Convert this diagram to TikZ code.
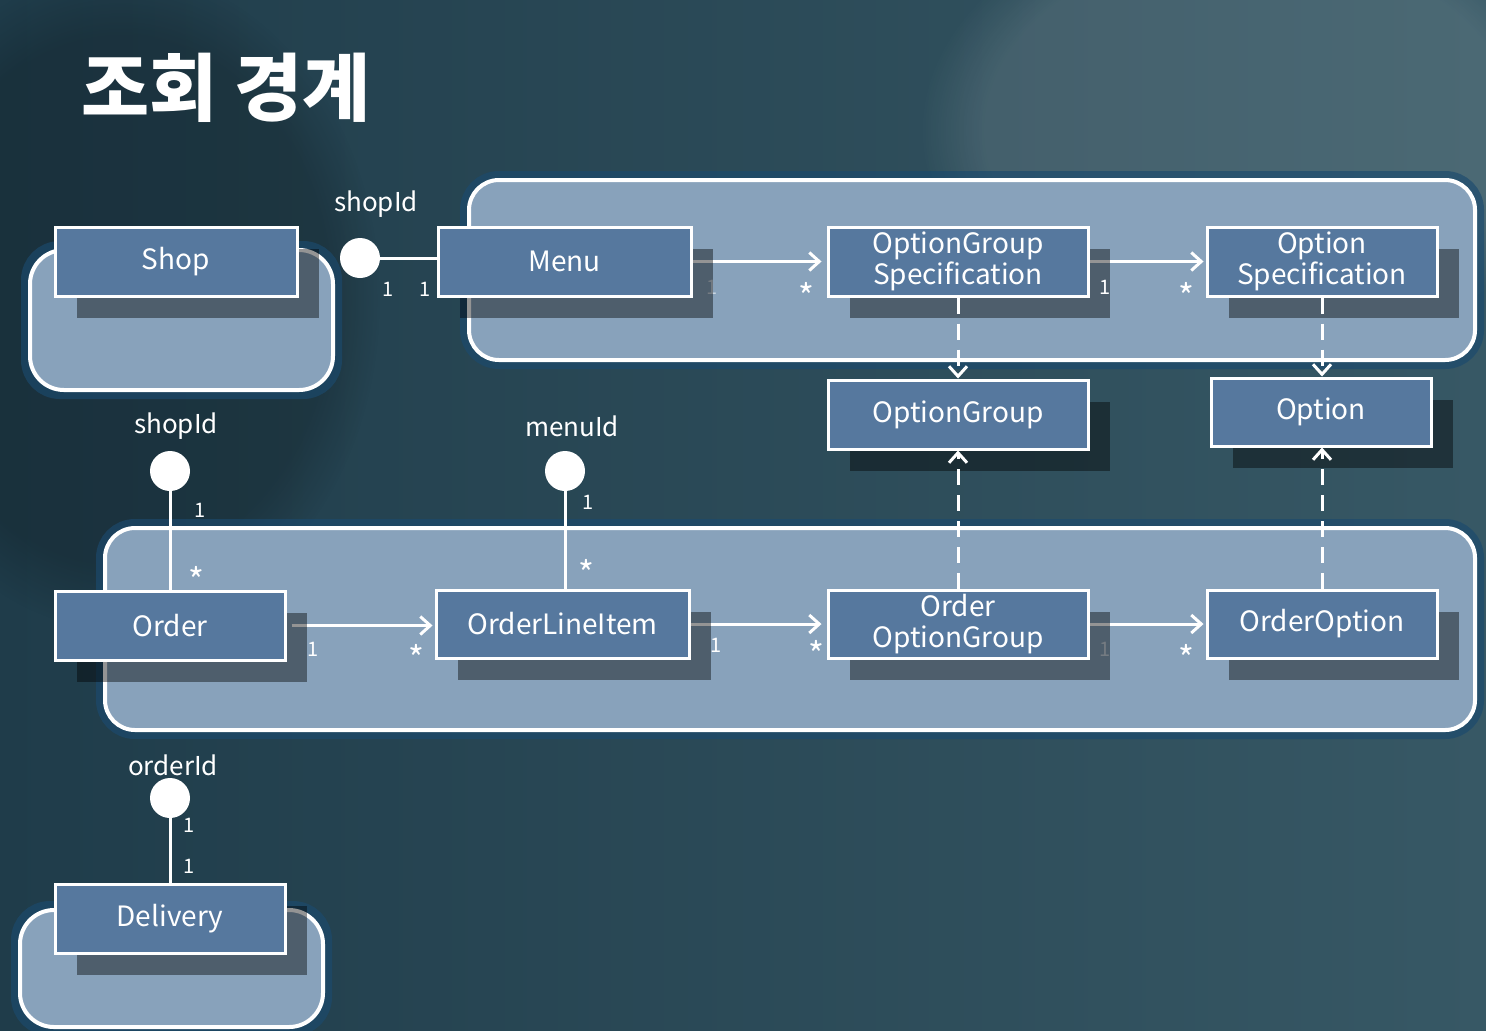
\documentclass[tikz,border=0pt]{standalone}
\usepackage{fontspec}
\setmainfont{Noto Sans CJK KR}
\usetikzlibrary{arrows.meta,shadows,fadings}
\pgfdeclarelayer{bg}
\pgfdeclarelayer{conn}
\pgfdeclarelayer{top}
\pgfsetlayers{bg,conn,main,top}
\definecolor{bgleft}{HTML}{1F3C4A}
\definecolor{bgright}{HTML}{375865}
\definecolor{contfill}{HTML}{88A2BB}
\definecolor{boxfill}{HTML}{56789E}
\definecolor{glowc}{HTML}{1B4A6E}
\begin{document}
\begin{tikzpicture}[x=0.5pt,y=-0.5pt,
  entity/.style={draw=white, line width=1.5pt, fill=boxfill, text=white,
    font=\fontsize{14}{15.5}\selectfont, align=center, inner sep=0pt,
    minimum height=34.5pt,
    drop shadow={shadow xshift=11pt, shadow yshift=-11pt, opacity=0.42, fill=black}},
  container/.style={draw=white, line width=2pt, fill=contfill, rounded corners=15pt},
  glow/.style={draw=glowc, line width=9pt, opacity=.65, rounded corners=15pt},
  port/.style={circle, fill=white, minimum size=20pt, inner sep=0pt},
  idlab/.style={text=white, font=\fontsize{13}{14}\selectfont, inner sep=0pt},
  mult/.style={text=white, font=\fontsize{10}{11}\selectfont, inner sep=0pt},
  star/.style={text=white, font=\fontsize{17}{17}\selectfont, inner sep=0pt},
  faintmult/.style={mult, text=white!55!contfill},
  link/.style={draw=white, line width=1.5pt},
  assoc/.style={link, -{Straight Barb[length=5pt,width=9pt]}},
  dep/.style={assoc, dash pattern=on 8pt off 5pt}]
\useasboundingbox (0,0) rectangle (1486,1030);

% ---------- background and bounded contexts ----------
\begin{pgfonlayer}{bg}
  \shade[left color=bgleft, right color=bgright] (0,0) rectangle (1486,1030);
  \fill[white, opacity=0.10, path fading=circle with fuzzy edge 20 percent]
     (1250,130) ellipse [x radius=330, y radius=230];
  \fill[black, opacity=0.18, path fading=circle with fuzzy edge 20 percent]
     (120,300) ellipse [x radius=260, y radius=330];
  % glows
  \draw[glow] (469,180) rectangle (1475,360);
  \draw[glow] (30,250) rectangle (333,390);
  \draw[glow] (105,528) rectangle (1475,730);
  \draw[glow] (20,910) rectangle (323,1027);
  % containers
  \draw[container] (469,180) rectangle (1475,360);
  \draw[container, rounded corners=17pt] (30,250) rectangle (333,390);
  \draw[container] (105,528) rectangle (1475,730);
  \draw[container, rounded corners=17pt] (20,910) rectangle (323,1027);
\end{pgfonlayer}

% ---------- title ----------
\node[text=white, font=\fontsize{37}{40}\selectfont\bfseries] (title) at (226,88) {조회 경계};

% ---------- entities ----------
\node[entity, minimum width=121pt] (shop) at (176,261.5) {Shop};
\node[entity, minimum width=126.5pt] (menu) at (564.5,261.5) {Menu};
\node[entity, minimum width=130pt] (ogs) at (958,261.5) {OptionGroup\\Specification};
\node[entity, minimum width=115pt] (os) at (1322,261.5) {Option\\Specification};
\node[entity, minimum width=130pt] (og) at (958,414.5) {OptionGroup};
\node[entity, minimum width=110pt, minimum height=34pt] (opt) at (1321,412) {Option};
\node[entity, minimum width=115pt] (order) at (170,625.5) {Order};
\node[entity, minimum width=126.5pt, minimum height=34pt] (oli) at (562.5,624) {OrderLineItem};
\node[entity, minimum width=130pt, minimum height=34pt] (oog) at (958,624) {Order\\OptionGroup};
\node[entity, minimum width=115pt, minimum height=34pt] (oo) at (1322,624) {OrderOption};
\node[entity, minimum width=115pt] (delivery) at (170,918.5) {Delivery};

% ---------- id ports ----------
\node[port] (p1) at (360,258) {};
\node[port] (p2) at (170,471) {};
\node[port] (p3) at (565,471) {};
\node[port] (p4) at (170,798) {};
\node[idlab] (l1) at (376,204) {shopId};
\node[idlab] (l2) at (176,426) {shopId};
\node[idlab] (l3) at (572,426) {menuId};
\node[idlab] (l4) at (173,765) {orderId};

% ---------- connectors ----------
\begin{pgfonlayer}{conn}
  \draw[link] (p1) -- (p1 -| menu.west);
  \draw[link] (p2) -- (p2 |- order.north);
  \draw[link] (p3) -- (p3 |- oli.north);
  \draw[link] (p4) -- (p4 |- delivery.north);
  \draw[assoc, shorten >=2.5pt] (menu.east) -- (ogs.west);
  \draw[assoc, shorten >=1pt] (ogs.east) -- (os.west);
  \draw[assoc, shorten <=2.5pt, shorten >=1pt] (order.east) -- (order.east -| oli.west);
  \draw[assoc, shorten >=2.5pt] (oli.east) -- (oli.east -| oog.west);
  \draw[assoc, shorten >=1pt] (oog.east) -- (oo.west);
  \node[faintmult] (m3) at (712,287) {1};
  \node[faintmult] (m15) at (1105,649) {1};
\end{pgfonlayer}
\begin{pgfonlayer}{top}
  \draw[dep] (ogs.south) -- (og.north);
  \draw[dep] (os.south) -- (os.south |- opt.north);
  \draw[dep] (oog.north) -- (og.south);
  \draw[dep] (oo.north) -- (oo.north |- opt.south);
\end{pgfonlayer}

% ---------- multiplicities ----------
\node[mult] (m1) at (388,289) {1};
\node[mult] (m2) at (425,289) {1};
\node[star] (m4) at (806,296) {*};
\node[mult] (m5) at (1105,287) {1};
\node[star] (m6) at (1186,296) {*};
\node[mult] (m7) at (200,510) {1};
\node[star] (m8) at (196,580) {*};
\node[mult] (m9) at (588,502) {1};
\node[star] (m10) at (586,573) {*};
\node[mult] (m11) at (313,649) {1};
\node[star] (m12) at (416,658) {*};
\node[mult] (m13) at (716,645) {1};
\node[star] (m14) at (816,654) {*};
\node[star] (m16) at (1186,658) {*};
\node[mult] (m17) at (189,825) {1};
\node[mult] (m18) at (189,866) {1};
\end{tikzpicture}
\end{document}
